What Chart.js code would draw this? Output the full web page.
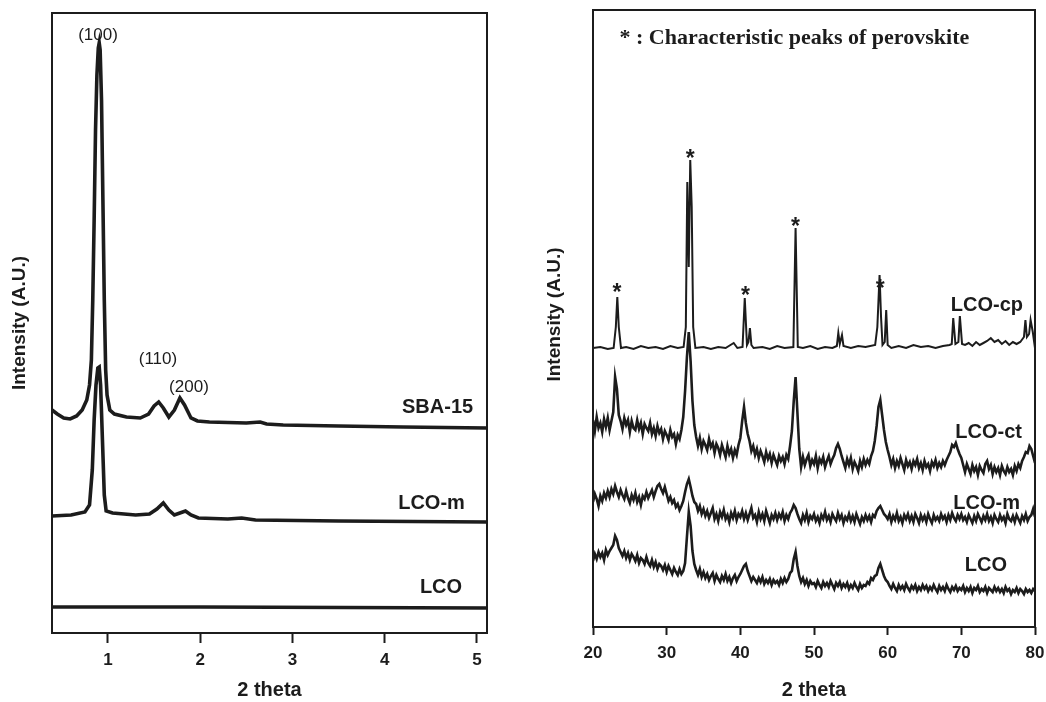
<!DOCTYPE html>
<html>
<head>
<meta charset="utf-8">
<script src="https://cdn.jsdelivr.net/npm/chart.js@4.4.1/dist/chart.umd.min.js"></script>
<style>
  html, body { margin: 0; padding: 0; background: #fff; }
  #wrap { position: relative; width: 1046px; height: 702px; overflow: hidden; }
  canvas { position: absolute; top: 0; }
  #left { left: 0; }
  #right { left: 530px; }
</style>
</head>
<body>
<div id="wrap">
  <canvas id="left" width="530" height="702"></canvas>
  <canvas id="right" width="516" height="702"></canvas>
</div>
<script>
// ── Left panel: low-angle XRD ──
const leftTicks = [1, 2, 3, 4, 5];

const sbaX = [0.393, 0.45, 0.52, 0.59, 0.66, 0.72, 0.77, 0.80, 0.82, 0.835, 0.85, 0.865, 0.88, 0.895, 0.905,
  0.915, 0.93, 0.945, 0.96, 0.975, 0.99, 1.02, 1.07, 1.2, 1.35, 1.44, 1.5, 1.55, 1.6, 1.66, 1.72, 1.78, 1.83,
  1.9, 1.97, 2.1, 2.5, 2.65, 2.72, 2.9, 3.5, 4.2, 5.11];
const sbaY = [223, 219, 215, 214, 217, 223, 233, 248, 273, 333, 413, 503, 558, 585, 590,
  583, 533, 433, 333, 263, 238, 223, 219, 216, 215, 219, 227, 231, 225, 216, 223, 235, 228,
  215, 212, 211, 210, 211, 209, 208, 207, 206, 205];

const lcomLX = [0.393, 0.6, 0.75, 0.80, 0.83, 0.85, 0.87, 0.89, 0.905, 0.92, 0.94, 0.96, 0.98, 1.05, 1.3,
  1.45, 1.53, 1.6, 1.66, 1.72, 1.78, 1.84, 1.9, 1.98, 2.3, 2.45, 2.6, 3.5, 5.11];
const lcomLY = [117, 118, 121, 128, 163, 213, 248, 265, 266, 248, 193, 138, 122, 120, 118,
  119, 124, 130, 123, 118, 120, 122, 118, 115, 114, 115, 113, 112, 111];

const lcoLX = [0.393, 2, 5.11];
const lcoLY = [26, 26, 25];

// ── Right panel: wide-angle XRD ──
const rightTicks = [20, 30, 40, 50, 60, 70, 80];

const cpX = [20, 21, 22, 22.8, 23.1, 23.3, 23.5, 23.8, 24.5, 25.5, 26.5, 27.5, 28.5, 29.5, 30.5, 31.5, 32.3,
  32.6, 32.8, 33.0, 33.2, 33.4, 33.6, 33.9, 35, 36, 37, 38, 39.1, 39.6, 40.3, 40.6, 40.9, 41.1, 41.3, 41.5,
  41.8, 43, 44, 45, 46, 47.2, 47.5, 47.8, 48.5, 49.5, 50.5, 51.5, 52.5, 53.1, 53.3, 53.5, 53.8, 54.0, 55,
  56, 57, 58.3, 58.6, 58.9, 59.1, 59.3, 59.6, 59.8, 60.0, 60.5, 61.5, 62.5, 63.5, 64.5, 65.5, 66.5, 67.5,
  68.4, 68.7, 68.9, 69.2, 69.6, 69.8, 70.1, 70.5, 71, 71.5, 72, 72.5, 73, 73.5, 74, 74.5, 75, 75.5, 76,
  76.5, 77, 77.5, 78, 78.5, 78.7, 78.9, 79.2, 79.4, 79.7, 80];
const cpY = [279, 280, 278, 279, 300, 330, 300, 279, 280, 278, 281, 279, 280, 278, 281, 279, 280,
  300, 445, 360, 467, 420, 300, 279, 280, 278, 280, 279, 284, 279, 280, 329, 282, 285, 299, 282,
  279, 280, 278, 281, 279, 280, 399, 280, 279, 281, 278, 280, 279, 281, 294, 283, 292, 281, 279,
  281, 280, 282, 300, 352, 310, 282, 285, 317, 282, 279, 281, 279, 282, 280, 281, 279, 281,
  282, 283, 309, 283, 285, 311, 283, 282, 284, 281, 285, 282, 284, 286, 289, 285, 287, 283, 286,
  282, 285, 283, 285, 290, 307, 290, 293, 307, 295, 279];

const gridX = [
  20, 20.25, 20.5, 20.75, 21, 21.25, 21.5, 21.75, 22, 22.25, 22.5, 22.75, 23, 23.25, 23.5, 23.75, 24, 24.25, 24.5, 24.75,
  25, 25.25, 25.5, 25.75, 26, 26.25, 26.5, 26.75, 27, 27.25, 27.5, 27.75, 28, 28.25, 28.5, 28.75, 29, 29.25, 29.5, 29.75,
  30, 30.25, 30.5, 30.75, 31, 31.25, 31.5, 31.75, 32, 32.25, 32.5, 32.75, 33, 33.25, 33.5, 33.75, 34, 34.25, 34.5, 34.75,
  35, 35.25, 35.5, 35.75, 36, 36.25, 36.5, 36.75, 37, 37.25, 37.5, 37.75, 38, 38.25, 38.5, 38.75, 39, 39.25, 39.5, 39.75,
  40, 40.25, 40.5, 40.75, 41, 41.25, 41.5, 41.75, 42, 42.25, 42.5, 42.75, 43, 43.25, 43.5, 43.75, 44, 44.25, 44.5, 44.75,
  45, 45.25, 45.5, 45.75, 46, 46.25, 46.5, 46.75, 47, 47.25, 47.5, 47.75, 48, 48.25, 48.5, 48.75, 49, 49.25, 49.5, 49.75,
  50, 50.25, 50.5, 50.75, 51, 51.25, 51.5, 51.75, 52, 52.25, 52.5, 52.75, 53, 53.25, 53.5, 53.75, 54, 54.25, 54.5, 54.75,
  55, 55.25, 55.5, 55.75, 56, 56.25, 56.5, 56.75, 57, 57.25, 57.5, 57.75, 58, 58.25, 58.5, 58.75, 59, 59.25, 59.5, 59.75,
  60, 60.25, 60.5, 60.75, 61, 61.25, 61.5, 61.75, 62, 62.25, 62.5, 62.75, 63, 63.25, 63.5, 63.75, 64, 64.25, 64.5, 64.75,
  65, 65.25, 65.5, 65.75, 66, 66.25, 66.5, 66.75, 67, 67.25, 67.5, 67.75, 68, 68.25, 68.5, 68.75, 69, 69.25, 69.5, 69.75,
  70, 70.25, 70.5, 70.75, 71, 71.25, 71.5, 71.75, 72, 72.25, 72.5, 72.75, 73, 73.25, 73.5, 73.75, 74, 74.25, 74.5, 74.75,
  75, 75.25, 75.5, 75.75, 76, 76.25, 76.5, 76.75, 77, 77.25, 77.5, 77.75, 78, 78.25, 78.5, 78.75, 79, 79.25, 79.5, 79.75,
  80];

const ctY = [
  207, 196, 210, 199, 204, 195, 208, 200, 209, 197, 206, 215, 250, 238, 212, 206, 198, 209, 202, 207,
  195, 206, 199, 197, 207, 198, 204, 193, 203, 199, 196, 204, 193, 199, 191, 201, 194, 198, 188, 196,
  192, 187, 197, 190, 193, 183, 192, 188, 197, 210, 236, 270, 295, 266, 226, 202, 190, 181, 189, 178,
  186, 182, 177, 188, 180, 184, 174, 183, 179, 172, 182, 176, 170, 181, 173, 178, 169, 177, 172, 182,
  189, 206, 220, 204, 193, 186, 176, 181, 172, 178, 169, 176, 171, 165, 175, 168, 173, 164, 172, 167,
  162, 171, 166, 170, 163, 172, 168, 181, 196, 226, 250, 214, 178, 160, 170, 162, 168, 172, 161, 167,
  163, 171, 159, 168, 164, 170, 160, 166, 171, 163, 168, 172, 179, 183, 178, 171, 165, 159, 168, 162,
  169, 158, 165, 161, 156, 166, 160, 168, 162, 167, 163, 171, 176, 186, 201, 220, 227, 212, 197, 185,
  177, 170, 162, 168, 159, 166, 161, 169, 163, 157, 167, 161, 165, 158, 166, 162, 168, 159, 164, 157,
  166, 160, 163, 156, 165, 161, 167, 159, 164, 160, 166, 162, 167, 171, 175, 182, 180, 184, 178, 173,
  169, 162, 155, 163, 158, 153, 162, 156, 160, 152, 161, 157, 154, 163, 166, 158, 162, 153, 160, 155,
  159, 152, 161, 156, 153, 160, 155, 158, 152, 161, 156, 163, 159, 166, 170, 175, 174, 181, 178, 171,
  164];

const mY = [
  125, 133, 128, 121, 131, 126, 134, 129, 136, 130, 138, 133, 141, 135, 130, 137, 132, 128, 136, 129,
  124, 132, 127, 134, 125, 130, 122, 131, 128, 135, 129, 133, 137, 130, 136, 141, 143, 138, 134, 140,
  133, 126, 130, 124, 127, 120, 123, 117, 121, 126, 135, 143, 148, 140, 131, 125, 123, 116, 121, 113,
  118, 111, 116, 109, 114, 119, 108, 113, 106, 115, 110, 117, 108, 112, 105, 114, 109, 116, 107, 113,
  110, 116, 108, 114, 107, 113, 119, 109, 112, 105, 115, 108, 113, 106, 116, 110, 104, 112, 108, 114,
  107, 113, 109, 115, 106, 112, 108, 114, 117, 122, 119, 113, 108, 104, 112, 107, 114, 105, 111, 108,
  113, 106, 110, 104, 112, 108, 115, 107, 111, 105, 113, 109, 106, 114, 108, 112, 104, 110, 107, 113,
  106, 111, 105, 113, 108, 103, 110, 106, 112, 107, 111, 105, 112, 110, 116, 119, 121, 117, 113, 111,
  108, 113, 105, 111, 107, 114, 106, 110, 104, 112, 108, 113, 106, 111, 105, 113, 109, 104, 112, 107,
  111, 105, 113, 108, 104, 112, 107, 110, 106, 113, 108, 111, 105, 112, 107, 114, 109, 106, 112, 108,
  113, 107, 110, 105, 112, 108, 104, 111, 106, 113, 109, 105, 111, 107, 113, 106, 110, 104, 112, 108,
  105, 112, 107, 110, 104, 113, 108, 106, 111, 105, 112, 108, 104, 111, 107, 113, 106, 110, 112, 118,
  110];

const lcoY = [
  66, 73, 68, 75, 70, 74, 67, 77, 72, 76, 79, 82, 91, 87, 79, 75, 71, 76, 69, 74,
  67, 73, 70, 66, 72, 64, 69, 67, 63, 70, 64, 61, 67, 60, 65, 58, 63, 61, 57, 62,
  55, 61, 57, 53, 59, 55, 52, 58, 53, 56, 64, 90, 115, 101, 76, 63, 57, 52, 58, 50,
  55, 49, 53, 47, 51, 54, 46, 52, 48, 45, 51, 47, 53, 46, 50, 44, 49, 52, 46, 50,
  53, 57, 61, 63, 56, 51, 46, 50, 47, 44, 49, 45, 50, 43, 47, 44, 48, 42, 47, 44,
  46, 42, 48, 44, 49, 45, 48, 54, 56, 68, 75, 61, 51, 45, 49, 43, 47, 41, 46, 43,
  44, 40, 46, 42, 39, 45, 41, 44, 40, 46, 42, 38, 44, 41, 45, 39, 43, 40, 44, 38,
  42, 39, 44, 40, 37, 43, 39, 42, 41, 45, 43, 49, 47, 51, 52, 59, 63, 57, 51, 47,
  45, 41, 38, 43, 39, 36, 42, 38, 41, 37, 43, 39, 36, 41, 38, 42, 36, 40, 37, 42,
  38, 41, 36, 40, 37, 42, 38, 35, 41, 37, 40, 36, 42, 38, 35, 40, 37, 41, 36, 39,
  37, 41, 35, 39, 36, 40, 34, 39, 37, 41, 35, 38, 36, 40, 34, 39, 37, 35, 40, 36,
  39, 35, 38, 34, 40, 36, 38, 33, 37, 35, 39, 34, 38, 36, 33, 38, 35, 37, 34, 38,
  36];

const INK = '#1c1c1c';
const SANS = '"Liberation Sans", Arial, sans-serif';
const SERIF = '"Liberation Serif", "Times New Roman", serif';

function pts(xs, ys) {
  return xs.map((x, i) => ({ x, y: ys[i] }));
}

function line(xs, ys, w) {
  return { data: pts(xs, ys), borderColor: INK, borderWidth: w, pointRadius: 0, tension: 0, fill: false };
}

// frame round the plot area
const framePlugin = {
  id: 'frame',
  afterDatasetsDraw(chart) {
    const { ctx, chartArea: a } = chart;
    ctx.save();
    ctx.strokeStyle = INK;
    ctx.lineWidth = 2;
    ctx.strokeRect(a.left, a.top, a.right - a.left, a.bottom - a.top);
    ctx.restore();
  }
};

// text notes placed in data coordinates + rotated y title
const notesPlugin = {
  id: 'notes',
  afterDraw(chart, args, opts) {
    const { ctx, scales: { x, y }, chartArea: a } = chart;
    ctx.save();
    ctx.fillStyle = INK;
    (opts.items || []).forEach(n => {
      ctx.font = n.font;
      ctx.textAlign = n.align || 'center';
      ctx.textBaseline = n.baseline || 'middle';
      ctx.fillText(n.text, x.getPixelForValue(n.x), y.getPixelForValue(n.y) + (n.dy || 0));
    });
    ctx.font = 'bold 19px ' + SANS;
    ctx.textAlign = 'center';
    ctx.textBaseline = 'middle';
    ctx.translate(opts.yTitleX, (a.top + a.bottom) / 2 - (opts.yTitleShift || 0));
    ctx.rotate(-Math.PI / 2);
    ctx.fillText('Intensity (A.U.)', 0, 0);
    ctx.restore();
  }
};

function xScale(min, max, ticks, height, tickLen, pad) {
  return {
    type: 'linear', min, max,
    afterBuildTicks: s => { s.ticks = ticks.map(v => ({ value: v })); },
    afterFit: s => { s.height = height; s.paddingLeft = 0; s.paddingRight = 0; },
    grid: { display: true, drawOnChartArea: false, drawTicks: true, tickLength: tickLen, tickWidth: 2, tickColor: INK },
    border: { display: false },
    ticks: { color: INK, font: { family: SANS, size: 17, weight: 'bold' }, padding: pad, maxRotation: 0 },
    title: { display: true, text: '2 theta', color: INK, font: { family: SANS, size: 20, weight: 'bold' }, padding: { top: 0, bottom: 0 } }
  };
}

new Chart(document.getElementById('left'), {
  type: 'line',
  data: {
    datasets: [
      line(sbaX, sbaY, 3.6),
      line(lcomLX, lcomLY, 3.6),
      line(lcoLX, lcoLY, 3.6)
    ]
  },
  options: {
    responsive: false,
    animation: false,
    layout: { padding: { left: 52, right: 43, top: 13, bottom: 0 } },
    scales: {
      x: xScale(0.393, 5.11, leftTicks, 69, 10, 7),
      y: { display: false, min: 0, max: 620 }
    },
    plugins: {
      legend: { display: false },
      tooltip: { enabled: false },
      notes: {
        yTitleX: 20,
        items: [
          { text: '(100)', x: 0.892, y: 598, font: '17px ' + SANS },
          { text: '(110)', x: 1.542, y: 274, font: '17px ' + SANS },
          { text: '(200)', x: 1.878, y: 246, font: '17px ' + SANS },
          { text: 'SBA-15', x: 4.96, y: 226, align: 'right', font: 'bold 20px ' + SANS },
          { text: 'LCO-m', x: 4.87, y: 130, align: 'right', font: 'bold 20px ' + SANS },
          { text: 'LCO', x: 4.84, y: 46, align: 'right', font: 'bold 20px ' + SANS }
        ]
      }
    }
  },
  plugins: [framePlugin, notesPlugin]
});

const stars = [[23.27, 340], [33.2, 474], [40.7, 337], [47.5, 406], [59.0, 344]];

new Chart(document.getElementById('right'), {
  type: 'line',
  data: {
    datasets: [
      line(cpX, cpY, 2),
      line(gridX, ctY, 2.6),
      line(gridX, mY, 2.6),
      line(gridX, lcoY, 2.6)
    ]
  },
  options: {
    responsive: false,
    animation: false,
    layout: { padding: { left: 63, right: 11, top: 10, bottom: 0 } },
    scales: {
      x: xScale(20, 80, rightTicks, 75, 8, 8),
      y: { display: false, min: 0, max: 617 }
    },
    plugins: {
      legend: { display: false },
      tooltip: { enabled: false },
      notes: {
        yTitleX: 25,
        yTitleShift: 4,
        items: [
          { text: '* : Characteristic peaks of perovskite', x: 23.6, y: 589, align: 'left', font: 'bold 22px ' + SERIF },
          ...stars.map(s => ({ text: '*', x: s[0], y: s[1], baseline: 'alphabetic', dy: 13, font: 'bold 23px ' + SANS })),
          { text: 'LCO-cp', x: 78.37, y: 322, align: 'right', font: 'bold 20px ' + SANS },
          { text: 'LCO-ct', x: 78.23, y: 195, align: 'right', font: 'bold 20px ' + SANS },
          { text: 'LCO-m', x: 77.96, y: 124, align: 'right', font: 'bold 20px ' + SANS },
          { text: 'LCO', x: 76.2, y: 62, align: 'right', font: 'bold 20px ' + SANS }
        ]
      }
    }
  },
  plugins: [framePlugin, notesPlugin]
});
</script>
</body>
</html>
